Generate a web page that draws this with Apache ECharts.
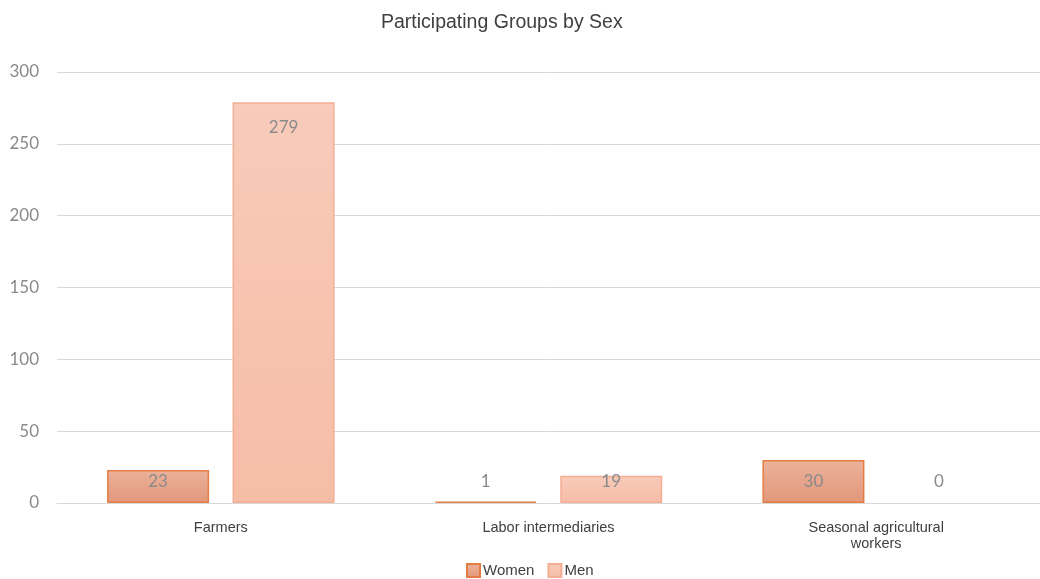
<!DOCTYPE html>
<html>
<head>
<meta charset="utf-8">
<script src="https://cdn.jsdelivr.net/npm/echarts@6/dist/echarts.min.js"></script>
<style>
html,body{margin:0;padding:0;background:#fff;}
#chart{width:1040px;height:579px;}
</style>
</head>
<body>
<div id="chart"></div>
<script>
var categories = ['Farmers', 'Labor intermediaries', 'Seasonal agricultural\nworkers'];
var women = [23, 1, 30];
var men = [279, 19, 0];
var yTicks = [0, 50, 100, 150, 200, 250, 300];

function labelled(values) {
  return values.map(function (v) {
    var item = { value: v };
    if (v > 100) {
      item.label = { position: 'insideTop', distance: 17 };
    } else {
      item.label = { position: 'insideBottom', distance: 13 };
    }
    if (v === 0) {
      item.itemStyle = { borderWidth: 0 };
    }
    return item;
  });
}

var labelStyle = {
  show: true,
  color: '#8a8a8a',
  fontSize: 17,
  fontFamily: 'Lato, "Open Sans", sans-serif'
};

var chart = echarts.init(document.getElementById('chart'), null, { renderer: 'canvas' });
chart.setOption({
  animation: false,
  backgroundColor: '#ffffff',
  title: {
    text: 'Participating Groups by Sex',
    left: 376,
    top: 8,
    textStyle: { fontFamily: '"Liberation Sans", Arial, sans-serif', fontWeight: 'normal', fontSize: 19.5, color: '#404040' }
  },
  legend: {
    bottom: -4,
    left: 461,
    icon: 'rect',
    itemWidth: 13,
    itemHeight: 13,
    itemGap: 13,
    textStyle: { fontFamily: '"Liberation Sans", Arial, sans-serif', fontSize: 15, color: '#404040', padding: [0, 0, 0, -2] },
    data: ['Women', 'Men']
  },
  grid: { left: 57, right: 0, top: 72, bottom: 76 },
  xAxis: {
    type: 'category',
    data: categories,
    axisLine: { lineStyle: { color: '#d9d9d9', width: 1 } },
    axisTick: { show: false },
    axisLabel: {
      margin: 17,
      color: '#404040',
      fontSize: 14.5,
      lineHeight: 16,
      fontFamily: '"Liberation Sans", Arial, sans-serif',
      interval: 0
    }
  },
  yAxis: {
    type: 'value',
    min: yTicks[0],
    max: yTicks[yTicks.length - 1],
    interval: 50,
    axisLine: { show: false },
    axisTick: { show: false },
    splitLine: { lineStyle: { color: '#d9d9d9', width: 1 } },
    axisLabel: {
      margin: 18,
      color: '#8a8a8a',
      fontSize: 17,
      fontFamily: 'Lato, "Open Sans", sans-serif'
    }
  },
  series: [
    {
      name: 'Women',
      type: 'bar',
      barWidth: 102,
      barGap: '23%',
      data: labelled(women),
      itemStyle: {
        color: new echarts.graphic.LinearGradient(0, 0, 0, 1, [
          { offset: 0, color: '#ebb29b' },
          { offset: 1, color: '#e2977a' }
        ]),
        borderColor: '#e47d43',
        borderWidth: 1.5
      },
      label: labelStyle
    },
    {
      name: 'Men',
      type: 'bar',
      barWidth: 102,
      data: labelled(men),
      itemStyle: {
        color: new echarts.graphic.LinearGradient(0, 0, 0, 1, [
          { offset: 0, color: '#f8cbba' },
          { offset: 1, color: '#f6bda6' }
        ]),
        borderColor: '#f3ae94',
        borderWidth: 1.5
      },
      label: labelStyle
    }
  ]
});
</script>
</body>
</html>
